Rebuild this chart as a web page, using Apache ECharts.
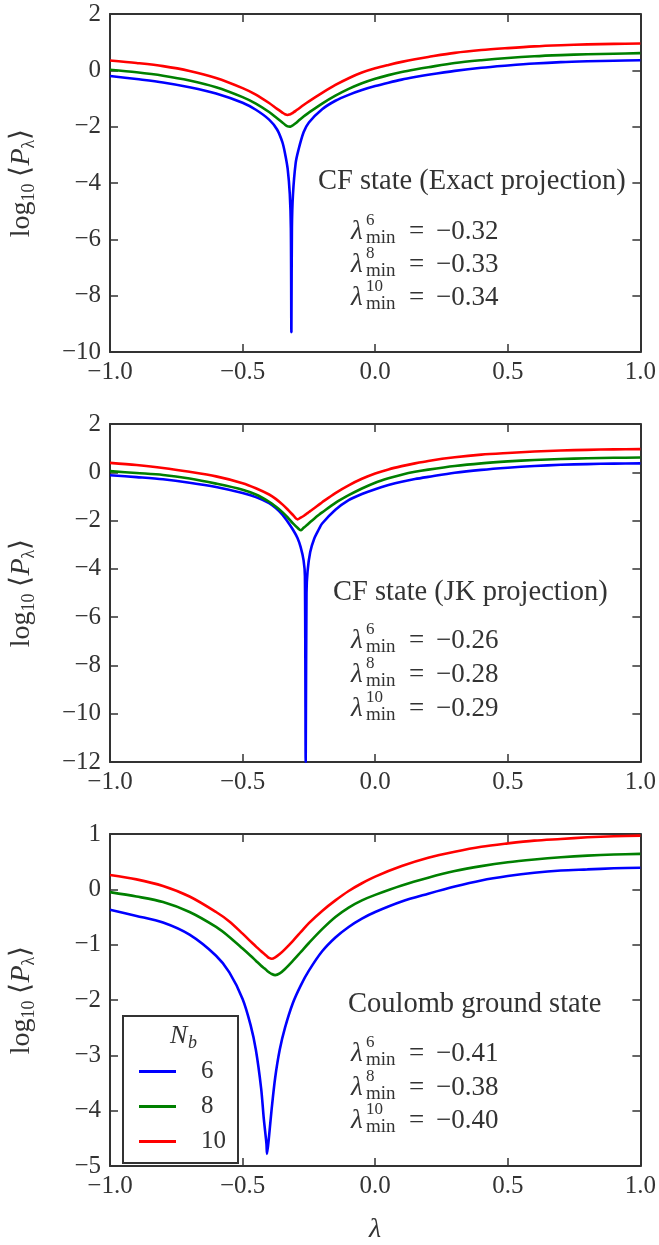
<!DOCTYPE html>
<html lang="en">
<head>
<meta charset="UTF-8">
<title>log10 P lambda</title>
<script src="https://cdn.jsdelivr.net/npm/echarts@6/dist/echarts.min.js"></script>
<style>body{margin:0;background:#fff}</style>
</head>
<body>
<div id="main" style="width:659px;height:1245px"></div>
<script>
// legend names (N_b) and colours
var names = ['6', '8', '10'];
var colors = ['#0000ff', '#008000', '#ff0000'];

// panel 1: CF state (Exact projection)
var xs1 = [-1, -0.9, -0.8, -0.7, -0.6, -0.5, -0.45, -0.4, -0.37, -0.35, -0.34, -0.33, -0.322, -0.318, -0.316, -0.314, -0.31, -0.3, -0.29, -0.27, -0.25, -0.2, -0.15, -0.1, -0.05, 0, 0.05, 0.1, 0.15, 0.2, 0.3, 0.4, 0.5, 0.6, 0.7, 0.8, 0.9, 1.0];
var blue1 = [-0.2, -0.31, -0.43, -0.6, -0.82, -1.15, -1.4, -1.75, -2.1, -2.55, -2.95, -3.5, -4.4, -5.6, -9.3, -5.6, -4.4, -3.3, -2.85, -2.2, -1.85, -1.38, -1.08, -0.87, -0.7, -0.56, -0.44, -0.33, -0.24, -0.16, -0.02, 0.09, 0.17, 0.24, 0.29, 0.32, 0.34, 0.36];
var green1 = [0.02, -0.07, -0.19, -0.36, -0.6, -0.95, -1.18, -1.48, -1.7, -1.85, -1.93, -1.99, -2.0, -1.99, -1.98, -1.97, -1.95, -1.88, -1.8, -1.64, -1.5, -1.18, -0.9, -0.66, -0.46, -0.3, -0.17, -0.06, 0.03, 0.11, 0.26, 0.36, 0.44, 0.5, 0.54, 0.57, 0.59, 0.61];
var red1 = [0.35, 0.26, 0.15, -0.02, -0.27, -0.63, -0.86, -1.16, -1.37, -1.5, -1.56, -1.585, -1.565, -1.55, -1.54, -1.53, -1.505, -1.44, -1.37, -1.23, -1.1, -0.8, -0.52, -0.28, -0.08, 0.07, 0.19, 0.3, 0.395, 0.475, 0.62, 0.72, 0.79, 0.85, 0.89, 0.92, 0.94, 0.95];
var mins1 = ['−0.32', '−0.33', '−0.34'];

// panel 2: CF state (JK projection)
var xs2 = [-1, -0.9, -0.8, -0.7, -0.6, -0.5, -0.45, -0.4, -0.375, -0.35, -0.33, -0.31, -0.293, -0.281, -0.27, -0.265, -0.262, -0.259, -0.255, -0.245, -0.23, -0.212, -0.2, -0.15, -0.1, -0.05, 0, 0.05, 0.1, 0.15, 0.2, 0.3, 0.4, 0.5, 0.6, 0.7, 0.8, 0.9, 1.0];
var blue2 = [-0.12, -0.2, -0.29, -0.43, -0.61, -0.86, -1.03, -1.28, -1.48, -1.75, -2.05, -2.38, -2.72, -3.1, -3.65, -4.3, -12, -5.0, -4.1, -3.3, -2.75, -2.35, -2.12, -1.55, -1.15, -0.9, -0.7, -0.53, -0.39, -0.28, -0.19, -0.02, 0.1, 0.19, 0.26, 0.31, 0.34, 0.36, 0.37];
var green2 = [0.05, -0.03, -0.11, -0.26, -0.47, -0.72, -0.92, -1.22, -1.42, -1.65, -1.87, -2.12, -2.3, -2.4, -2.3, -2.26, -2.23, -2.2, -2.16, -2.06, -1.92, -1.76, -1.66, -1.27, -0.95, -0.67, -0.43, -0.25, -0.1, 0.02, 0.11, 0.26, 0.37, 0.45, 0.51, 0.55, 0.58, 0.6, 0.61];
var red2 = [0.39, 0.3, 0.18, 0.02, -0.17, -0.45, -0.66, -0.92, -1.1, -1.33, -1.54, -1.77, -1.95, -1.88, -1.81, -1.77, -1.745, -1.72, -1.69, -1.61, -1.49, -1.34, -1.24, -0.86, -0.54, -0.27, -0.05, 0.12, 0.255, 0.37, 0.47, 0.62, 0.73, 0.8, 0.86, 0.9, 0.93, 0.95, 0.96];
var mins2 = ['−0.26', '−0.28', '−0.29'];

// panel 3: Coulomb ground state
var xs3 = [-1, -0.9, -0.8, -0.7, -0.6, -0.55, -0.5, -0.47, -0.45, -0.43, -0.42, -0.41, -0.408, -0.4, -0.39, -0.377, -0.36, -0.34, -0.31, -0.28, -0.25, -0.2, -0.15, -0.1, -0.05, 0, 0.1, 0.2, 0.3, 0.4, 0.5, 0.6, 0.7, 0.8, 0.9, 1.0];
var blue3 = [-0.37, -0.48, -0.6, -0.82, -1.2, -1.5, -1.98, -2.45, -2.9, -3.6, -4.15, -4.6, -4.78, -4.45, -3.95, -3.4, -2.9, -2.5, -2.05, -1.73, -1.47, -1.12, -0.87, -0.68, -0.53, -0.41, -0.22, -0.08, 0.05, 0.16, 0.24, 0.3, 0.34, 0.36, 0.38, 0.39];
var green3 = [-0.05, -0.13, -0.23, -0.41, -0.68, -0.86, -1.07, -1.2, -1.29, -1.38, -1.42, -1.46, -1.47, -1.5, -1.53, -1.55, -1.52, -1.44, -1.29, -1.13, -0.97, -0.72, -0.5, -0.33, -0.2, -0.1, 0.07, 0.21, 0.33, 0.42, 0.49, 0.54, 0.58, 0.61, 0.63, 0.64];
var red3 = [0.26, 0.18, 0.06, -0.13, -0.41, -0.58, -0.8, -0.94, -1.03, -1.12, -1.16, -1.2, -1.21, -1.24, -1.255, -1.23, -1.17, -1.08, -0.93, -0.77, -0.61, -0.39, -0.2, -0.03, 0.11, 0.23, 0.42, 0.57, 0.68, 0.77, 0.83, 0.88, 0.91, 0.94, 0.96, 0.97];
var mins3 = ['−0.41', '−0.38', '−0.40'];

var titles = ['CF state (Exact projection)', 'CF state (JK projection)', 'Coulomb ground state'];
var yRanges = [[-10, 2, 2], [-12, 2, 2], [-5, 1, 1]];

var serif = 'Liberation Serif';
var ink = '#333';

var panels = [
    {xs: xs1, ys: [blue1, green1, red1], mins: mins1, top: 14, height: 338, titleX: 318, titleY: 182, rowX: 351, rowY: [232, 265, 298]},
    {xs: xs2, ys: [blue2, green2, red2], mins: mins2, top: 424, height: 338, titleX: 333, titleY: 593, rowX: 351, rowY: [641, 675, 709]},
    {xs: xs3, ys: [blue3, green3, red3], mins: mins3, top: 834, height: 341, titleX: 348, titleY: 1005, rowX: 351, rowY: [1054, 1088, 1121]}
];

function minus(v, d) {
    return (v < 0 ? '−' : '') + Math.abs(v).toFixed(d);
}

var grids = [], xAxes = [], yAxes = [], series = [], graphics = [];
var lineAx = {show: true, onZero: false, lineStyle: {color: ink, width: 2}};
var tickAx = {show: true, inside: true, length: 8, lineStyle: {color: ink, width: 1.5}};

panels.forEach(function (p, i) {
    grids.push({left: 110, right: 16, top: p.top, height: p.height});
    var r = yRanges[i];
    // bottom + top x axes
    xAxes.push({
        type: 'value', gridIndex: i, position: 'bottom', min: -1, max: 1, interval: 0.5,
        axisLine: lineAx, axisTick: tickAx, splitLine: {show: false},
        axisLabel: {color: ink, fontFamily: serif, fontSize: 25, margin: 8, formatter: function (v) { return minus(v, 1); }},
        name: i === 2 ? 'λ' : '', nameLocation: 'middle', nameGap: 50,
        nameTextStyle: {color: ink, fontFamily: serif, fontSize: 28, fontStyle: 'italic'}
    });
    xAxes.push({
        type: 'value', gridIndex: i, position: 'top', min: -1, max: 1, interval: 0.5,
        axisLine: lineAx, axisTick: tickAx, splitLine: {show: false}, axisLabel: {show: false}
    });
    // left + right y axes
    yAxes.push({
        type: 'value', gridIndex: i, position: 'left', min: r[0], max: r[1], interval: r[2],
        axisLine: lineAx, axisTick: tickAx, splitLine: {show: false},
        axisLabel: {color: ink, fontFamily: serif, fontSize: 25, margin: 9, formatter: function (v) { return minus(v, 0); }},
        name: '{a|log}{s|10}{a| ⟨}{i|P}{s|λ}{a|⟩}', nameLocation: 'middle', nameGap: 72, nameRotate: 90,
        nameTextStyle: {
            color: ink,
            rich: {
                a: {fontFamily: serif, fontSize: 28, color: ink, lineHeight: 32, verticalAlign: 'middle'},
                i: {fontFamily: serif, fontSize: 28, color: ink, fontStyle: 'italic', lineHeight: 32, verticalAlign: 'middle'},
                s: {fontFamily: serif, fontSize: 18, color: ink, lineHeight: 18, verticalAlign: 'bottom'}
            }
        }
    });
    yAxes.push({
        type: 'value', gridIndex: i, position: 'right', min: r[0], max: r[1], interval: r[2],
        axisLine: lineAx, axisTick: tickAx, splitLine: {show: false}, axisLabel: {show: false}
    });
    names.forEach(function (n, k) {
        series.push({
            name: n, type: 'line', xAxisIndex: 2 * i, yAxisIndex: 2 * i,
            symbol: 'none', smooth: 0.3, clip: true,
            lineStyle: {color: colors[k], width: 2.6},
            itemStyle: {color: colors[k]},
            data: p.xs.map(function (x, j) { return [x, p.ys[k][j]]; })
        });
    });
    // annotation text
    graphics.push({type: 'text', x: p.titleX, y: p.titleY, silent: true,
        style: {text: titles[i], fontFamily: serif, fontSize: 28.5, fill: ink, textVerticalAlign: 'middle'}});
    p.rowY.forEach(function (y, k) {
        graphics.push({type: 'text', x: p.rowX, y: y, silent: true,
            style: {text: 'λ', fontFamily: serif, fontSize: 27, fontStyle: 'italic', fill: ink, textVerticalAlign: 'middle'}});
        graphics.push({type: 'text', x: p.rowX + 15, y: y - 11, silent: true,
            style: {text: names[k], fontFamily: serif, fontSize: 17, fill: ink, textVerticalAlign: 'middle'}});
        graphics.push({type: 'text', x: p.rowX + 15, y: y + 6, silent: true,
            style: {text: 'min', fontFamily: serif, fontSize: 19, fill: ink, textVerticalAlign: 'middle'}});
        graphics.push({type: 'text', x: p.rowX + 58, y: y, silent: true,
            style: {text: '=', fontFamily: serif, fontSize: 27, fill: ink, textVerticalAlign: 'middle'}});
        graphics.push({type: 'text', x: p.rowX + 85, y: y, silent: true,
            style: {text: p.mins[k], fontFamily: serif, fontSize: 27, fill: ink, textVerticalAlign: 'middle'}});
    });
});

// legend title N_b
graphics.push({type: 'text', x: 170, y: 1036, silent: true, z: 10,
    style: {text: 'N', fontFamily: serif, fontSize: 26, fontStyle: 'italic', fill: ink, textVerticalAlign: 'middle'}});
graphics.push({type: 'text', x: 188, y: 1043, silent: true, z: 10,
    style: {text: 'b', fontFamily: serif, fontSize: 18, fontStyle: 'italic', fill: ink, textVerticalAlign: 'middle'}});

var myChart = echarts.init(document.getElementById('main'));
var option = {
    animation: false,
    backgroundColor: '#fff',
    grid: grids,
    xAxis: xAxes,
    yAxis: yAxes,
    legend: {
        data: names, orient: 'vertical', left: 123, top: 1016,
        icon: 'rect', itemWidth: 37, itemHeight: 3, itemGap: 10,
        padding: [43, 12, 9, 16],
        borderColor: ink, borderWidth: 2, borderRadius: 0, backgroundColor: '#fff',
        textStyle: {color: ink, fontFamily: serif, fontSize: 25, padding: [0, 0, 0, 20]}
    },
    graphic: graphics,
    series: series
};
myChart.setOption(option);
</script>
</body>
</html>
